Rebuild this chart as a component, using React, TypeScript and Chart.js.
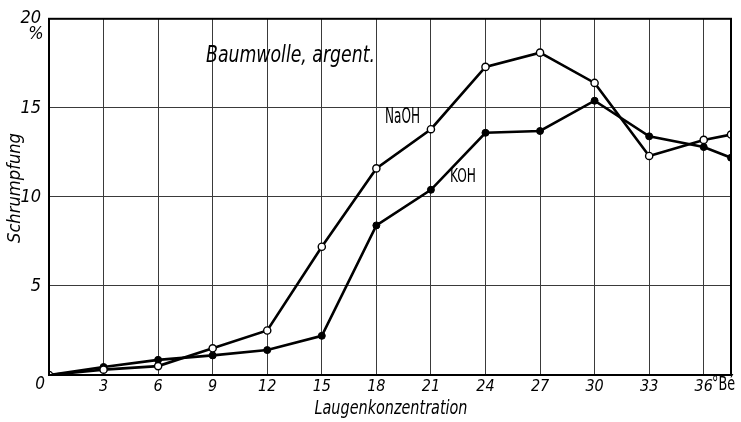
import React, { useEffect, useRef } from "react";
import { Chart, registerables } from "chart.js";

Chart.register(...registerables);

const concentrations = [0, 3, 6, 9, 12, 15, 18, 21, 24, 27, 30, 33, 36, 37.5];
const naohValues = [0, 0.3, 0.5, 1.5, 2.5, 7.2, 11.6, 13.8, 17.3, 18.1, 16.4, 12.3, 13.2, 13.5];
const kohValues = [0, 0.45, 0.85, 1.1, 1.4, 2.2, 8.4, 10.4, 13.6, 13.7, 15.4, 13.4, 12.8, 12.2];
const xTicks = [0, 3, 6, 9, 12, 15, 18, 21, 24, 27, 30, 33, 36];
const yTicks = [0, 5, 10, 15, 20];

const FONT = '"Liberation Sans Narrow", "DejaVu Sans Condensed", "Roboto Condensed", "Liberation Sans", sans-serif';

function fitText(ctx: any, text: string, x: number, y: number, width: number, font: string, align: string) {
  ctx.save();
  ctx.font = font;
  const w = ctx.measureText(text).width;
  const s = width / w;
  ctx.textBaseline = "middle";
  ctx.textAlign = "left";
  let x0 = x;
  if (align === "center") x0 = x - width / 2;
  ctx.translate(x0, y);
  ctx.scale(s, 1);
  ctx.fillText(text, 0, 0);
  ctx.restore();
}

const decorPlugin = {
  id: "decor",
  afterDraw(chart: any) {
    const { ctx, chartArea } = chart;
    const { left, right, top, bottom } = chartArea;
    ctx.save();
    ctx.strokeStyle = "#000";
    ctx.lineWidth = 2;
    ctx.strokeRect(left, top, right - left, bottom - top);
    ctx.fillStyle = "#000";
    fitText(ctx, "Baumwolle, argent.", 206, 56, 169, `italic 23px ${FONT}`, "left");
    fitText(ctx, "NaOH", 385, 117, 35, `22px ${FONT}`, "left");
    fitText(ctx, "KOH", 450, 177, 26, `20px ${FONT}`, "left");
    ctx.textAlign = "center";
    ctx.textBaseline = "middle";
    ctx.font = `italic 18px ${FONT}`;
    ctx.fillText("%", left - 13, top + 16);
    ctx.font = `italic 17px ${FONT}`;
    ctx.fillText("0", left - 9, bottom + 10);
    fitText(ctx, "°Bé", 712, 385, 23, `20px ${FONT}`, "left");
    fitText(ctx, "Laugenkonzentration", 391, 409, 153, `italic 19px ${FONT}`, "center");
    ctx.save();
    ctx.translate(15, 188);
    ctx.rotate(-Math.PI / 2);
    fitText(ctx, "Schrumpfung", 0, 0, 110, `italic 18px ${FONT}`, "center");
    ctx.restore();
    ctx.restore();
  },
};

export default function App() {
  const ref = useRef<HTMLCanvasElement>(null);
  useEffect(() => {
    if (!ref.current) return;
    const chart = new Chart(ref.current, {
      type: "line",
      data: {
        datasets: [
          {
            label: "NaOH",
            data: concentrations.map((x, i) => ({ x, y: naohValues[i] })),
            borderColor: "#000",
            borderWidth: 2.6,
            pointBackgroundColor: "#fff",
            pointBorderColor: "#000",
            pointBorderWidth: 1.4,
            pointRadius: 3.6,
            tension: 0,
          },
          {
            label: "KOH",
            data: concentrations.map((x, i) => ({ x, y: kohValues[i] })),
            borderColor: "#000",
            borderWidth: 2.6,
            pointBackgroundColor: "#000",
            pointBorderColor: "#000",
            pointBorderWidth: 1,
            pointRadius: 3.5,
            tension: 0,
          },
        ],
      },
      options: {
        animation: false,
        responsive: false,
        devicePixelRatio: 1,
        layout: { padding: { top: 13, right: 10, left: 0, bottom: 0 } },
        plugins: { legend: { display: false }, tooltip: { enabled: false } },
        scales: {
          x: {
            type: "linear",
            min: 0,
            max: 37.5,
            afterFit: (s: any) => { s.height = 47; },
            afterBuildTicks: (s: any) => { s.ticks = xTicks.map((v) => ({ value: v })); },
            grid: { color: "#3a3a3a", lineWidth: 1, drawTicks: false },
            border: { display: false },
            ticks: {
              autoSkip: false,
              maxRotation: 0,
              padding: 2,
              color: "#000",
              font: { family: FONT, size: 16, style: "italic" },
              callback: (v: any) => (v === 0 ? "" : String(v)),
            },
          },
          y: {
            type: "linear",
            min: 0,
            max: 20,
            afterFit: (s: any) => { s.width = 49; },
            afterBuildTicks: (s: any) => { s.ticks = yTicks.map((v) => ({ value: v })); },
            grid: { color: "#3a3a3a", lineWidth: 1, drawTicks: false },
            border: { display: false },
            ticks: {
              padding: 8,
              color: "#000",
              font: { family: FONT, size: 18, style: "italic" },
              callback: (v: any) => (v === 0 ? "" : String(v)),
            },
          },
        },
      },
      plugins: [decorPlugin],
    });
    return () => chart.destroy();
  }, []);
  return (
    <div style={{ position: "absolute", left: 0, top: 0, width: 741, height: 422, background: "#fff" }}>
      <canvas ref={ref} width={741} height={422} />
    </div>
  );
}
